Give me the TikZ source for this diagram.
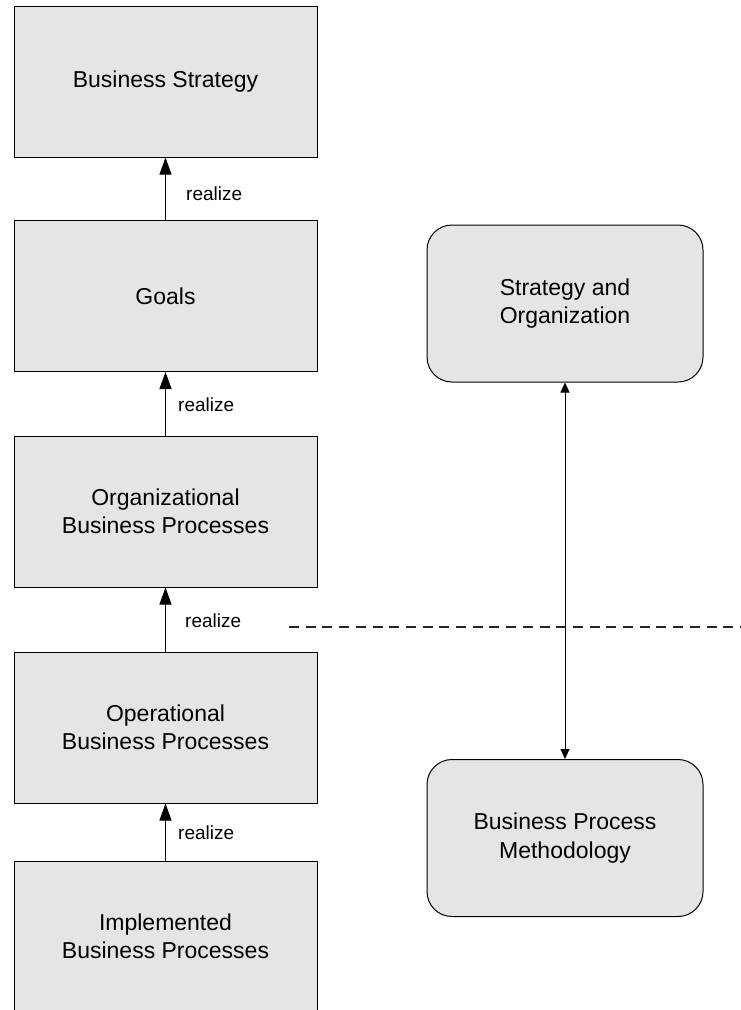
\documentclass[tikz,border=0pt]{standalone}
\usepackage{fontspec}
\setmainfont{Liberation Sans}
\usetikzlibrary{arrows.meta}
\begin{document}
\begin{tikzpicture}[x=1pt,y=-1pt,
  lbox/.style={draw=black, line width=1pt, fill=black!10, minimum width=303pt, minimum height=151pt, inner sep=0pt, align=center, font=\fontsize{23}{28.5}\selectfont},
  rbox/.style={draw=black, line width=1pt, fill=black!10, rounded corners=25pt, minimum width=276pt, minimum height=157pt, inner sep=0pt, align=center, font=\fontsize{23}{28.5}\selectfont},
  realizearrow/.style={-{Triangle[length=17pt,width=12pt]}, line width=1pt},
  bothtip/.style={{Triangle[length=10pt,width=9pt]}-{Triangle[length=10pt,width=9pt]}, line width=1pt},
  lbl/.style={anchor=base west, inner sep=0pt, font=\fontsize{19}{23}\selectfont},
  sep/.style={dash pattern=on 10pt off 6.7pt, line width=1.2pt, draw=black!85},
]
\useasboundingbox (0,0) rectangle (741,1010);
\clip (0,0) rectangle (741,1010);

\node[lbox] (bs) at (165.5,81.5) {Business Strategy};
\node[lbox] (goals) at (165.5,296) {Goals};
\node[lbox] (obp) at (165.5,511.5) {Organizational\\Business Processes};
\node[lbox] (opbp) at (165.5,727.5) {Operational\\Business Processes};
\node[lbox] (ibp) at (165.5,936.5) {Implemented\\Business Processes};

\node[rbox] (so) at (565,303.5) {Strategy and\\Organization};
\node[rbox] (bpm) at (565,838) {Business Process\\Methodology};

\draw[realizearrow] (goals.north) -- (bs.south);
\draw[realizearrow] (obp.north) -- (goals.south);
\draw[realizearrow] (opbp.north) -- (obp.south);
\draw[realizearrow] (ibp.north) -- (opbp.south);

\node[lbl] (r1) at (186,200) {realize};
\node[lbl] (r2) at (178,411.5) {realize};
\node[lbl] (r3) at (185,627.5) {realize};
\node[lbl] (r4) at (178,839) {realize};

\draw[bothtip] (so.south) -- (bpm.north);

\coordinate (dl) at (289,627);
\coordinate (dr) at (741,627);
\draw[sep] (dl) -- (dr);
\end{tikzpicture}
\end{document}
